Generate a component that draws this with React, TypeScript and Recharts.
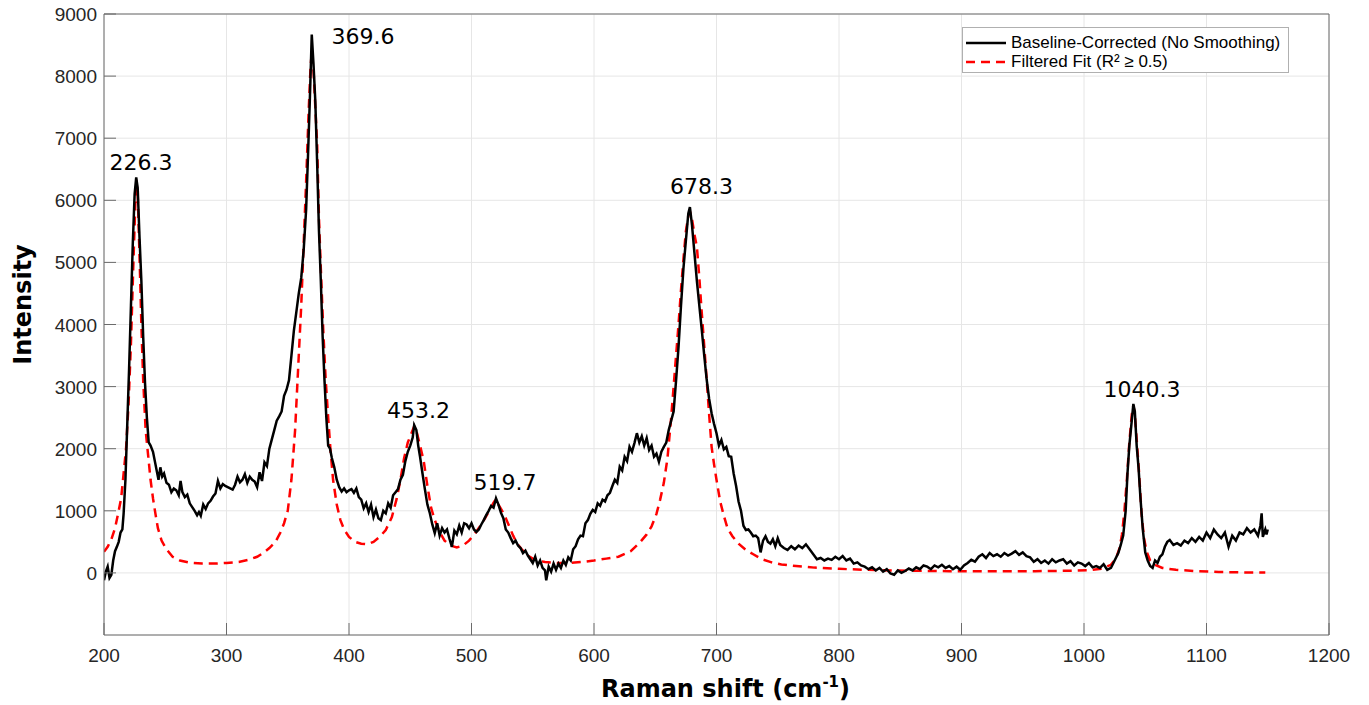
import { LineChart, Line, XAxis, YAxis, CartesianGrid, Legend, ReferenceDot } from 'recharts';

// Raman shift (cm-1) / intensity
const baselineCorrected: [number, number][] = [
  [200, -120], [201.5, 20], [203, 100], [204.5, -80], [206, -30], [207.5, 200], [209, 350], [210.5, 420],
  [212, 500], [213.5, 650], [215, 700], [216, 950], [217.5, 1500], [219, 2400], [220.5, 3300], [222, 4300],
  [223.5, 5300], [225, 6100], [226.3, 6370], [227.5, 6200], [229, 5400], [230.5, 4700], [232, 3800], [233.5, 3050],
  [235, 2500], [236.5, 2100], [238, 2050], [240, 1950], [241.5, 1800], [243, 1650], [244.5, 1500], [246, 1700],
  [247.5, 1550], [249, 1600], [251, 1450], [253, 1420], [255, 1300], [257, 1360], [259, 1330], [261, 1250],
  [262.5, 1480], [264, 1300], [266, 1220], [268, 1260], [270, 1120], [272, 1060], [274, 1000], [276, 930],
  [277.5, 980], [279, 920], [281, 1100], [283, 1030], [285, 1120], [287, 1160], [289, 1230], [291, 1280],
  [293, 1480], [295, 1360], [297, 1430], [299, 1400], [301, 1380], [303, 1360], [305, 1340], [307, 1420],
  [309, 1550], [311, 1460], [313, 1500], [315, 1590], [317, 1450], [319, 1550], [321, 1500], [323, 1470],
  [325, 1380], [327, 1620], [329, 1480], [331, 1780], [333, 1720], [335, 2000], [337, 2150], [339, 2300],
  [341, 2450], [343, 2520], [345, 2600], [347, 2850], [349, 2950], [351, 3100], [353, 3500], [355, 3900],
  [357, 4200], [359, 4500], [361, 4750], [363, 5200], [365, 5850], [366.5, 6700], [368, 7600], [369.6, 8670],
  [371, 8200], [372.5, 7600], [374, 6600], [375.5, 5500], [377, 4700], [378.5, 3800], [380, 3100], [381.5, 2500],
  [383, 2050], [384.5, 2000], [386, 1850], [388, 1700], [390, 1500], [392, 1380], [394, 1310], [396, 1360],
  [398, 1300], [400, 1330], [402, 1350], [404, 1290], [406, 1360], [408, 1220], [410, 1180], [412, 1040],
  [414, 1120], [416, 980], [418, 1100], [420, 900], [422, 1020], [424, 880], [426, 850], [428, 1000],
  [430, 960], [432, 1120], [434, 1050], [436, 1250], [438, 1300], [440, 1350], [442, 1500], [444, 1580],
  [446, 1800], [448, 1950], [450, 2050], [452, 2180], [453.2, 2380], [455, 2300], [456.5, 2050], [458, 1870],
  [460, 1600], [462, 1340], [464, 1100], [466, 960], [468, 780], [470, 640], [472, 800], [474, 600],
  [476, 720], [478, 650], [480, 700], [482, 550], [484, 420], [486, 680], [488, 620], [490, 760],
  [492, 650], [494, 800], [496, 780], [498, 720], [500, 800], [502, 700], [504, 660], [506, 700],
  [508, 780], [510, 850], [512, 930], [514, 1000], [516, 1080], [518, 1050], [520, 1200], [522, 1100],
  [524, 970], [526, 880], [528, 700], [530, 650], [532, 560], [534, 480], [536, 520], [538, 440],
  [540, 400], [542, 320], [544, 360], [546, 280], [548, 220], [550, 160], [552, 260], [554, 120],
  [556, 200], [558, 80], [560, 40], [561, -120], [563, 100], [565, 20], [567, 150], [569, 50],
  [571, 150], [573, 80], [575, 200], [577, 130], [579, 250], [581, 200], [583, 380], [585, 430],
  [587, 540], [589, 600], [591, 590], [593, 800], [595, 850], [597, 950], [599, 1015], [601, 980],
  [603, 1120], [605, 1080], [607, 1180], [609, 1150], [611, 1250], [613, 1290], [615, 1400], [617, 1500],
  [619, 1450], [621, 1710], [623, 1650], [625, 1870], [627, 1800], [629, 2030], [631, 1950], [633, 2090],
  [635, 2250], [637, 2100], [639, 2200], [641, 2050], [643, 2170], [645, 1980], [647, 2050], [649, 1870],
  [651, 1920], [653, 1790], [655, 1950], [657, 2030], [659, 2100], [661, 2300], [663, 2450], [665, 2600],
  [667, 3100], [669, 3640], [671, 4300], [673, 4900], [675, 5350], [677, 5790], [678.3, 5890], [680, 5600],
  [682, 5150], [684, 4700], [686, 4300], [688, 3910], [690, 3500], [692, 3110], [694, 2800], [696, 2570],
  [698, 2400], [700, 2250], [702, 2050], [704, 2140], [706, 1990], [708, 2030], [710, 1880], [712, 1870],
  [714, 1600], [716, 1400], [718, 1150], [720, 1000], [722, 760], [724, 690], [726, 700], [728, 650],
  [730, 590], [732, 600], [734, 560], [736, 330], [738, 520], [740, 590], [742, 500], [744, 470],
  [746, 540], [748, 430], [750, 560], [752, 450], [755, 400], [758, 370], [761, 430], [764, 380],
  [767, 440], [770, 400], [773, 460], [776, 380], [779, 300], [782, 220], [785, 240], [788, 200],
  [791, 230], [794, 210], [797, 260], [800, 220], [803, 270], [806, 200], [809, 230], [812, 150],
  [815, 170], [818, 120], [821, 100], [824, 60], [827, 90], [830, 40], [833, 80], [836, 20],
  [839, 60], [842, -10], [845, -30], [848, 40], [851, 0], [854, 30], [857, 70], [860, 40],
  [863, 90], [866, 60], [869, 120], [872, 100], [875, 60], [878, 120], [881, 90], [884, 130],
  [887, 80], [890, 110], [893, 60], [896, 100], [899, 50], [902, 120], [905, 160], [908, 210],
  [911, 180], [914, 260], [917, 300], [920, 240], [923, 320], [926, 270], [929, 300], [932, 260],
  [935, 320], [938, 280], [941, 310], [944, 350], [947, 290], [950, 330], [953, 270], [956, 250],
  [959, 180], [962, 220], [965, 160], [968, 200], [971, 150], [974, 220], [977, 170], [980, 200],
  [983, 220], [986, 150], [989, 190], [992, 120], [995, 170], [998, 150], [1001, 110], [1004, 160],
  [1007, 90], [1010, 110], [1013, 80], [1016, 140], [1019, 50], [1022, 80], [1025, 200], [1028, 320],
  [1030, 450], [1032, 600], [1034, 1000], [1035.5, 1600], [1037, 2050], [1038.5, 2350], [1040.3, 2720], [1041.5, 2600],
  [1043, 2050], [1044.5, 1700], [1046, 1230], [1048, 700], [1050, 330], [1052, 200], [1054, 110], [1056, 80],
  [1058, 200], [1060, 160], [1062, 260], [1064, 300], [1066, 420], [1068, 500], [1070, 530], [1073, 450],
  [1076, 480], [1079, 440], [1082, 520], [1085, 480], [1088, 560], [1091, 500], [1094, 580], [1097, 520],
  [1100, 650], [1103, 560], [1106, 700], [1109, 620], [1112, 560], [1115, 650], [1118, 420], [1121, 600],
  [1124, 520], [1127, 650], [1130, 620], [1133, 720], [1136, 650], [1139, 700], [1142, 600], [1144, 760],
  [1145, 960], [1146, 580], [1148, 700], [1149, 620], [1150, 700],
];

// filtered peak fit
const filteredFit: [number, number][] = [
  [200, 340], [203, 420], [206, 540], [209, 720], [212, 1000], [214, 1200], [216, 1600], [218, 2000],
  [220, 2700], [222, 3700], [224, 5000], [225.5, 5900], [226.3, 6330], [227.5, 6100], [229, 5100], [230.5, 4000],
  [232, 3100], [234, 2300], [236, 1900], [238, 1500], [240, 1200], [242, 950], [244, 720], [247, 520],
  [251, 380], [256, 260], [262, 200], [270, 165], [280, 150], [290, 150], [300, 160], [310, 175],
  [318, 210], [325, 260], [330, 320], [335, 400], [340, 500], [344, 650], [347, 800], [350, 1000],
  [353, 1500], [356, 2300], [359, 3500], [361, 4300], [363, 5300], [365, 6300], [367, 7400], [368.5, 8100],
  [369.6, 8400], [371, 8100], [372.5, 7500], [374, 6900], [375.5, 5700], [377, 4900], [379, 3900], [381, 3100],
  [383, 2500], [385, 1950], [387, 1500], [390, 1100], [393, 850], [396, 700], [400, 580], [405, 500],
  [410, 470], [415, 460], [420, 500], [425, 580], [430, 690], [435, 900], [439, 1200], [442, 1500],
  [445, 1850], [448, 2100], [451, 2250], [453.2, 2360], [455.5, 2250], [458, 2050], [461, 1800], [464, 1400],
  [467, 1050], [470, 850], [474, 660], [478, 520], [483, 440], [488, 410], [493, 440], [498, 520],
  [503, 640], [507, 750], [511, 880], [515, 1020], [518, 1130], [519.7, 1180], [522, 1100], [525, 1000],
  [528, 880], [531, 740], [534, 600], [537, 480], [541, 380], [545, 290], [550, 230], [555, 195],
  [560, 175], [570, 160], [580, 160], [590, 175], [600, 200], [610, 230], [620, 260], [630, 350],
  [637, 480], [643, 620], [647, 750], [651, 950], [654, 1180], [657, 1450], [660, 1850], [663, 2500],
  [665, 3000], [667, 3500], [669, 4000], [671, 4550], [673, 5050], [675, 5500], [677, 5750], [678.3, 5820],
  [680, 5700], [682, 5450], [684, 5250], [686, 4750], [688, 4180], [690, 3650], [692, 3110], [694, 2550],
  [696, 2030], [698, 1750], [700, 1500], [703, 1150], [706, 920], [709, 720], [713, 590], [718, 470],
  [724, 370], [730, 300], [737, 220], [745, 170], [753, 135], [765, 110], [780, 85], [800, 65],
  [830, 45], [860, 35], [890, 28], [920, 25], [960, 28], [990, 35], [1005, 45], [1015, 70],
  [1022, 130], [1026, 230], [1029, 400], [1031, 620], [1033, 1000], [1035, 1500], [1037, 2100], [1039, 2550],
  [1040.3, 2700], [1041.5, 2550], [1043, 2150], [1045, 1600], [1047, 950], [1049, 560], [1051, 350], [1054, 200],
  [1058, 130], [1064, 80], [1075, 50], [1090, 30], [1110, 15], [1130, 8], [1148, 5],
];

// peak annotations: text and where it sits (data units)
const peakLabels: { text: string; x: number; y: number }[] = [
  { text: '226.3', x: 230.2, y: 6490 },
  { text: '369.6', x: 411.4, y: 8518 },
  { text: '453.2', x: 456.7, y: 2496 },
  { text: '519.7', x: 527.3, y: 1337 },
  { text: '678.3', x: 687.8, y: 6103 },
  { text: '1040.3', x: 1047.3, y: 2834 },
];

const xTicks = [200, 300, 400, 500, 600, 700, 800, 900, 1000, 1100, 1200];
const yTicks = [0, 1000, 2000, 3000, 4000, 5000, 6000, 7000, 8000, 9000];

const legendItems = [
  { name: 'Baseline-Corrected (No Smoothing)', color: '#000000', dash: undefined },
  { name: 'Filtered Fit (R\u00b2 \u2265 0.5)', color: '#ff0000', dash: '9 6' },
];

const rawData = baselineCorrected.map(([x, y]) => ({ x, y }));
const fitData = filteredFit.map(([x, y]) => ({ x, y }));

const AXIS = '#6b6b6b';
const TEXT = '#262626';
const TICK_FONT = '"Liberation Sans", Arial, sans-serif';
const TICK_LEN = 12;

const BottomTick = ({ x, y, payload }: any) => (
  <g>
    <line x1={x} y1={y} x2={x} y2={y - TICK_LEN} stroke={AXIS} />
    <text x={x} y={y + 27} textAnchor="middle" fontSize={19} fontFamily={TICK_FONT} fill={TEXT}>
      {payload.value}
    </text>
  </g>
);

const LeftTick = ({ x, y, payload }: any) => (
  <g>
    <line x1={x} y1={y} x2={x + TICK_LEN} y2={y} stroke={AXIS} />
    <text x={x - 7} y={y + 7} textAnchor="end" fontSize={19} fontFamily={TICK_FONT} fill={TEXT}>
      {payload.value}
    </text>
  </g>
);

const TopTick = ({ x, y }: any) => <line x1={x} y1={y} x2={x} y2={y + TICK_LEN} stroke={AXIS} />;
const RightTick = ({ x, y }: any) => <line x1={x} y1={y} x2={x - TICK_LEN} y2={y} stroke={AXIS} />;

const XTitle = ({ viewBox }: any) => (
  <text
    x={viewBox.x + viewBox.width / 2 + 9}
    y={viewBox.y + 62}
    textAnchor="middle"
    fontSize={24}
    fontWeight="bold"
    fontFamily='"DejaVu Sans", sans-serif'
    fill="#000"
  >
    Raman shift (cm
    <tspan dy={-10} fontSize={15}>-1</tspan>
    <tspan dy={10}>)</tspan>
  </text>
);

const YTitle = ({ viewBox }: any) => {
  const cx = 31;
  const cy = viewBox.y + viewBox.height / 2 - 20;
  return (
    <text
      x={cx}
      y={cy}
      transform={`rotate(-90, ${cx}, ${cy})`}
      textAnchor="middle"
      fontSize={24}
      fontWeight="bold"
      fontFamily='"DejaVu Sans", sans-serif'
      fill="#000"
    >
      Intensity
    </text>
  );
};

const LegendBox = () => (
  <div
    style={{
      width: 325,
      height: 44,
      border: '1px solid #b0b0b0',
      background: '#fff',
      boxSizing: 'content-box',
      fontFamily: TICK_FONT,
      fontSize: 17,
      color: '#000',
    }}
  >
    {legendItems.map((item, i) => (
      <div key={i} style={{ display: 'flex', alignItems: 'center', height: 19, marginTop: i === 0 ? 5 : 0 }}>
        <svg width={40} height={6} style={{ marginLeft: 3, marginRight: 5 }}>
          <line x1={0} y1={3} x2={40} y2={3} stroke={item.color} strokeWidth={2.5} strokeDasharray={item.dash} />
        </svg>
        <span style={{ whiteSpace: 'nowrap' }}>{item.name}</span>
      </div>
    ))}
  </div>
);

const PeakText = ({ cx, cy, text }: any) => (
  <text x={cx} y={cy} textAnchor="middle" fontSize={22} fontFamily='"DejaVu Sans", sans-serif' fill="#000">
    {text}
  </text>
);

export default function App() {
  return (
    <div style={{ position: 'absolute', left: 0, top: 0, background: '#fff' }}>
      <LineChart width={1369} height={705} margin={{ top: 13, right: 39, bottom: 0, left: 0 }}>
        <CartesianGrid stroke="#e6e6e6" horizontal vertical />
        <XAxis
          type="number"
          dataKey="x"
          domain={[200, 1200]}
          ticks={xTicks}
          interval={0}
          allowDataOverflow
          height={70}
          tickSize={0}
          tickMargin={0}
          tickLine={false}
          axisLine={{ stroke: AXIS }}
          tick={<BottomTick />}
          label={<XTitle />}
        />
        <XAxis
          xAxisId="top"
          orientation="top"
          type="number"
          dataKey="x"
          domain={[200, 1200]}
          ticks={xTicks}
          interval={0}
          height={1}
          tickSize={0}
          tickMargin={0}
          tickLine={false}
          axisLine={{ stroke: AXIS }}
          tick={<TopTick />}
        />
        <YAxis
          type="number"
          domain={[-1000, 9000]}
          ticks={yTicks}
          interval={0}
          allowDataOverflow
          width={104}
          tickSize={0}
          tickMargin={0}
          tickLine={false}
          axisLine={{ stroke: AXIS }}
          tick={<LeftTick />}
          label={<YTitle />}
        />
        <YAxis
          yAxisId="right"
          orientation="right"
          type="number"
          domain={[-1000, 9000]}
          ticks={yTicks}
          interval={0}
          width={1}
          tickSize={0}
          tickMargin={0}
          tickLine={false}
          axisLine={{ stroke: AXIS }}
          tick={<RightTick />}
        />
        <Line
          data={fitData}
          dataKey="y"
          name="Filtered Fit"
          type="linear"
          stroke="#ff0000"
          strokeWidth={2.5}
          strokeDasharray="9 6"
          dot={false}
          activeDot={false}
          isAnimationActive={false}
        />
        <Line
          data={rawData}
          dataKey="y"
          name="Baseline-Corrected"
          type="linear"
          stroke="#000000"
          strokeWidth={2.5}
          dot={false}
          activeDot={false}
          isAnimationActive={false}
        />
        {peakLabels.map((p) => (
          <ReferenceDot
            key={p.text}
            x={p.x}
            y={p.y}
            r={1}
            shape={(props: any) => <PeakText {...props} text={p.text} />}
          />
        ))}
        <Legend
          layout="vertical"
          align="center"
          verticalAlign="middle"
          wrapperStyle={{ left: 962, top: 27, width: 327 }}
          content={() => <LegendBox />}
        />
      </LineChart>
    </div>
  );
}
